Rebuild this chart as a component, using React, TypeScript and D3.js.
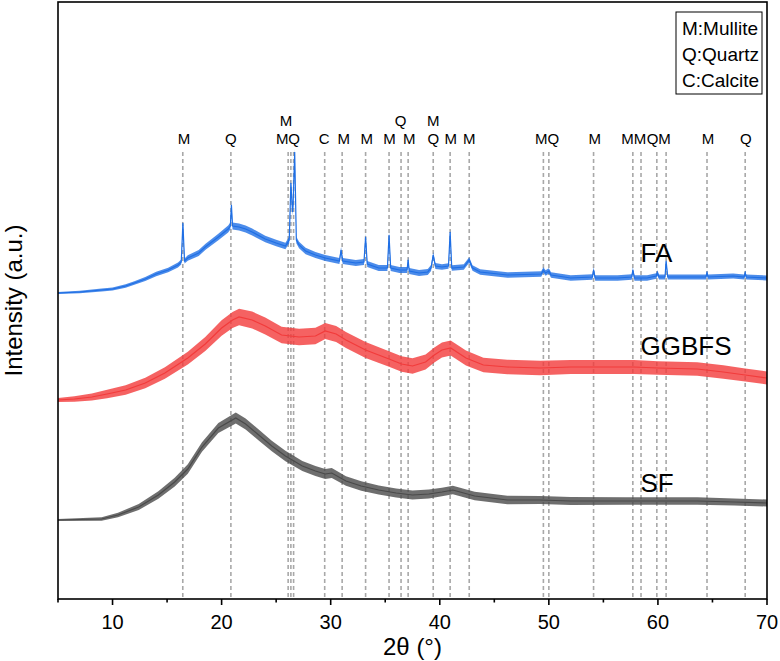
import React from 'react'
import * as d3 from 'd3'

// [2θ, intensity] (arbitrary units)
const faPattern: [number, number][] = [
    [5.0, 306], [7.0, 307], [9.0, 309], [10.0, 310], [11.2, 313], [12.0, 316], [13.0, 320], [14.0, 325],
    [15.1, 329], [16.0, 334], [16.3, 337], [16.45, 376], [16.6, 338], [16.9, 341], [17.9, 346], [18.5, 352],
    [19.7, 362], [20.6, 370], [20.8, 373], [20.9, 394], [21.0, 373], [21.6, 372], [22.2, 370], [22.8, 367],
    [24.0, 360], [25.0, 356], [25.85, 353], [26.2, 359], [26.35, 416], [26.5, 387], [26.55, 393], [26.7, 447],
    [26.85, 359], [27.1, 354], [27.7, 348], [28.6, 344], [29.5, 341], [30.8, 338], [30.95, 349], [31.1, 338],
    [32.3, 336], [33.05, 337], [33.2, 362], [33.35, 335], [34.4, 331], [35.2, 331], [35.35, 364], [35.5, 331],
    [36.3, 329], [37.0, 329], [37.1, 339], [37.2, 328], [38.1, 326], [38.9, 327], [39.2, 331], [39.4, 344],
    [39.6, 333], [40.2, 332], [40.8, 333], [40.95, 367], [41.1, 331], [42.2, 332], [42.7, 339], [43.0, 331],
    [43.7, 327], [46.2, 324], [49.3, 325], [49.5, 329], [49.7, 326], [50.0, 328], [50.2, 324], [52.0, 321],
    [54.0, 322], [54.1, 329], [54.25, 321], [56.3, 321], [57.6, 322], [57.7, 329], [57.85, 321], [59.0, 321],
    [59.85, 323], [59.95, 326], [60.1, 322], [60.65, 322], [60.75, 338], [60.9, 322], [62.3, 322], [64.4, 322],
    [64.5, 326], [64.6, 322], [66.9, 323], [67.9, 322], [68.0, 326], [68.1, 322], [70.0, 321],
]
const ggbfsPattern: [number, number][] = [
    [5.0, 199], [6.5, 200], [8.1, 202], [9.5, 205], [11.2, 209], [13.0, 216], [14.8, 226], [16.9, 241],
    [18.5, 255], [20.0, 271], [21.0, 279], [21.6, 282], [22.8, 279], [24.0, 273], [25.5, 264], [27.1, 262],
    [28.6, 263], [29.5, 268], [30.5, 265], [31.4, 259], [33.2, 249], [35.35, 240], [36.5, 235], [37.5, 233],
    [38.7, 237], [39.5, 244], [40.2, 249], [41.0, 251], [42.4, 241], [44.0, 234], [46.2, 232], [49.2, 231],
    [52.0, 232], [55.0, 232], [57.8, 232], [60.0, 231], [63.6, 230], [66.0, 227], [68.0, 224], [70.0, 221],
]
const sfPattern: [number, number][] = [
    [5.0, 79], [9.0, 80], [10.5, 84], [12.4, 92], [14.2, 104], [15.7, 117], [16.9, 130], [18.2, 152],
    [19.7, 171], [21.3, 181], [22.2, 175], [23.4, 164], [24.6, 153], [25.85, 143], [27.4, 133], [28.6, 128],
    [29.5, 125], [30.1, 126], [31.4, 118], [32.8, 113], [34.4, 109], [36.0, 106], [37.5, 104], [39.0, 105],
    [40.2, 107], [41.2, 109], [43.2, 103], [46.2, 99], [49.2, 99], [52.0, 98], [57.0, 98], [63.6, 98],
    [67.0, 97], [70.0, 96],
]
// half-width of the noise band, [2θ, intensity]
const faSpread: [number, number][] = [[5, 1], [10, 1.5], [16, 2.5], [21, 3.5], [30, 3], [70, 2.5]]
const ggbfsSpread: [number, number][] = [[5, 2], [9, 4], [16, 6], [22, 8.5], [40, 7.5], [70, 6.5]]
const sfSpread: [number, number][] = [[5, 1], [10, 2], [16, 4.5], [22, 5.5], [35, 4.5], [70, 3.5]]

const sampleNames = ['FA', 'GGBFS', 'SF']
const sampleLabelAt: [number, number][] = [[58.4, 337], [58.4, 244], [58.4, 107]]

// reference phase positions (2θ)
const phaseLines = [16.44, 20.85, 26.1, 26.35, 26.6, 29.45, 31.05, 33.2, 35.35, 36.45, 37.1, 39.4, 40.95,
    42.7, 49.5, 50.0, 54.1, 57.7, 58.45, 59.9, 60.75, 64.5, 68.0]
const phaseLetters = ['M', 'Q', 'M', 'Q', 'C', 'M', 'M', 'M', 'M', 'Q', 'M', 'M', 'M', 'Q', 'M', 'M', 'M', 'Q', 'M', 'M', 'Q']
const phaseLetterAt = [16.55, 20.85, 25.55, 26.65, 29.4, 31.2, 33.3, 35.4, 37.2, 39.4, 41.0, 42.7, 49.3, 50.42,
    54.2, 57.2, 58.35, 59.5, 60.6, 64.6, 68.05]
const upperLetters = ['M', 'Q', 'M']
const upperLetterAt = [25.9, 36.4, 39.4]

const legendRows = ['M:Mullite', 'Q:Quartz', 'C:Calcite']
const xTicks = [10, 20, 30, 40, 50, 60, 70]
const xMinorTicks = [5, 15, 25, 35, 45, 55, 65]

const W = 780, H = 661
const L = 58, R = 767, T = 2, B = 599
const font = 'Liberation Sans, Arial, sans-serif'

const App = () => {
    const x = d3.scaleLinear().domain([5, 70]).range([L, R])
    const y = d3.scaleLinear().domain([0, 597]).range([B, T])

    const series = [
        { name: 'FA', data: faPattern, spread: faSpread, color: '#1f6fe5' },
        { name: 'GGBFS', data: ggbfsPattern, spread: ggbfsSpread, color: '#f23b3b' },
        { name: 'SF', data: sfPattern, spread: sfSpread, color: '#4a4a4a' },
    ]

    const line = d3.line<[number, number]>().x(d => x(d[0])).y(d => y(d[1]))

    return (
        <svg width={W} height={H} style={{ position: 'absolute', left: 0, top: 0 }} fontFamily={font}>
            <rect x={0} y={0} width={W} height={H} fill="#fff" />
            <defs>
                <clipPath id="plot"><rect x={L} y={T} width={R - L} height={B - T} /></clipPath>
            </defs>

            {phaseLines.map((a, i) => (
                <line key={i} x1={x(a)} x2={x(a)} y1={152} y2={B} stroke="#a8a8a8" strokeWidth={1.6} strokeDasharray="4,3" />
            ))}
            {phaseLetters.map((t, i) => (
                <text key={i} x={x(phaseLetterAt[i])} y={144} textAnchor="middle" fontSize={15}>{t}</text>
            ))}
            {upperLetters.map((t, i) => (
                <text key={i} x={x(upperLetterAt[i])} y={126} textAnchor="middle" fontSize={15}>{t}</text>
            ))}

            <g clipPath="url(#plot)">
                {series.map(s => {
                    const amp = d3.scaleLinear().domain(s.spread.map(d => d[0])).range(s.spread.map(d => d[1]))
                    const band = d3.area<[number, number]>()
                        .x(d => x(d[0]))
                        .y0(d => y(d[1] - amp(d[0])))
                        .y1(d => y(d[1] + amp(d[0])))
                    return (
                        <g key={s.name}>
                            <path d={band(s.data) || ''} fill={s.color} opacity={0.8} />
                            <path d={line(s.data) || ''} fill="none" stroke={s.color} strokeWidth={1.2} />
                        </g>
                    )
                })}
            </g>

            {sampleNames.map((n, i) => (
                <text key={n} x={x(sampleLabelAt[i][0])} y={y(sampleLabelAt[i][1])} fontSize={26}>{n}</text>
            ))}

            <rect x={676} y={12} width={86} height={82} fill="#fff" stroke="#000" strokeWidth={1} />
            {legendRows.map((t, i) => (
                <text key={t} x={682} y={35 + i * 26} fontSize={19}>{t}</text>
            ))}

            <rect x={L} y={T} width={R - L} height={B - T} fill="none" stroke="#000" strokeWidth={1.6} />
            {xTicks.map(t => (
                <g key={t}>
                    <line x1={x(t)} x2={x(t)} y1={B} y2={B + 6} stroke="#000" strokeWidth={1.6} />
                    <text x={x(t)} y={629} textAnchor="middle" fontSize={20}>{t}</text>
                </g>
            ))}
            {xMinorTicks.map(t => (
                <line key={t} x1={x(t)} x2={x(t)} y1={B} y2={B + 3.5} stroke="#000" strokeWidth={1.6} />
            ))}

            <text x={(L + R) / 2} y={655} textAnchor="middle" fontSize={24}>2θ (°)</text>
            <text transform={`translate(22,${(T + B) / 2}) rotate(-90)`} textAnchor="middle" fontSize={24}>Intensity (a.u.)</text>
        </svg>
    )
}

export default App
